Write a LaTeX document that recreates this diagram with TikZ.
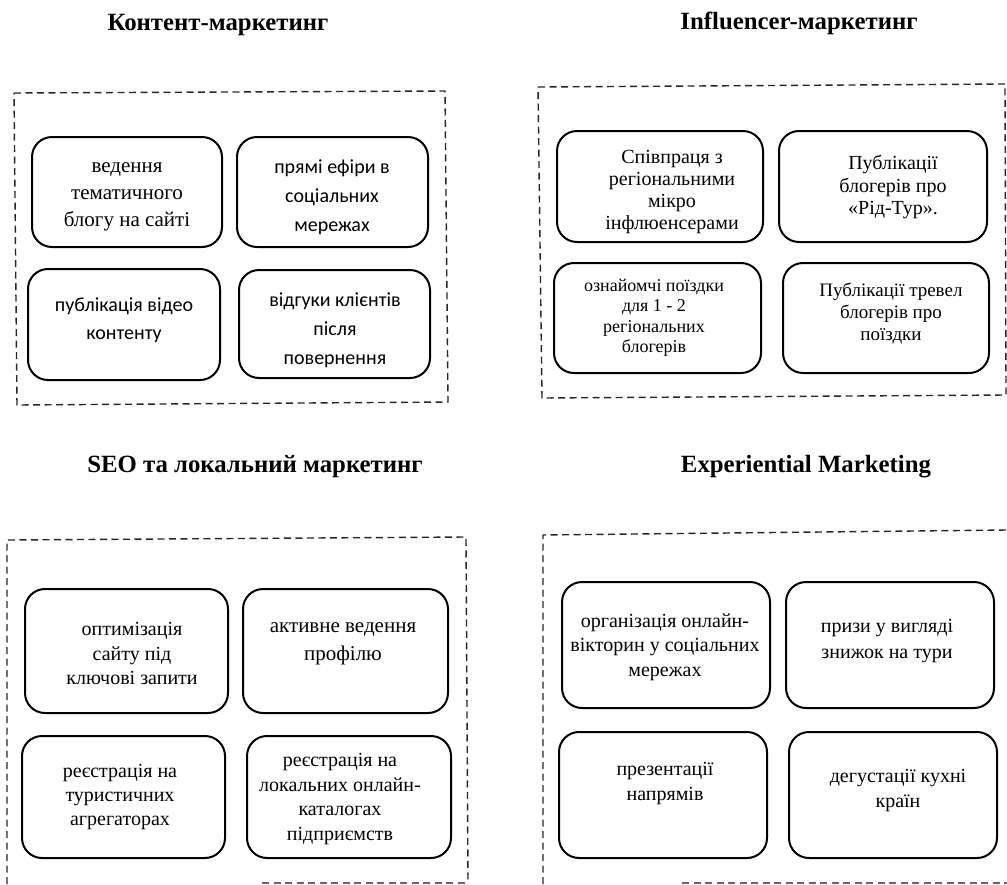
\documentclass[tikz,border=0pt]{standalone}
\usepackage{fontspec}
\setmainfont{Liberation Serif}
\newfontfamily\calfont{Carlito}
\begin{document}
\begin{tikzpicture}[x=1pt,y=-1pt,
  panel/.style={draw, line width=1.4pt, dash pattern=on 7pt off 4.5pt, black!85},
  card/.style={draw, line width=2pt, rounded corners=20pt, inner sep=0pt},
  lbl/.style={align=center, inner sep=0pt},
  ttl/.style={font=\bfseries\fontsize{24.8}{28}\selectfont, anchor=base, inner sep=0pt}]
\useasboundingbox (0,0) rectangle (1007,884);
% titles
\node[ttl] (t1) at (218,30) {Контент-маркетинг};
\node[ttl] (t2) at (799,29) {Influencer-маркетинг};
\node[ttl] (t3) at (255,472) {SEO та локальний маркетинг};
\node[ttl] (t4) at (806,472) {Experiential Marketing};
% panels
\draw[panel] (14,93) -- (445,91) -- (448,402) -- (17,405) -- cycle;
\draw[panel] (538,87) -- (1005,84) -- (1006,395) -- (542,398) -- cycle;
\draw[panel] (7,884) -- (7,540) -- (466,537) -- (468,884);
\draw[panel, black!60] (262,883) -- (468,883);
\draw[panel] (543,884) -- (543,535) -- (1007,530);
\draw[panel, black!60] (682,883) -- (1007,883);
% panel 1
\node[card, minimum width=190pt, minimum height=110pt] (a1) at (127,192) {};
\node[card, minimum width=191pt, minimum height=110pt] (b1) at (332.5,192) {};
\node[card, minimum width=192pt, minimum height=111pt] (c1) at (124,324.5) {};
\node[card, minimum width=191pt, minimum height=108pt] (d1) at (334.5,324) {};
\node[lbl, font=\fontsize{21}{27}\selectfont] (ta1) at (127,196.5) {ведення\\тематичного\\блогу на сайті};
\node[lbl, font=\calfont\fontsize{20}{29}\selectfont] (tb1) at (332,197) {прямі ефіри в\\соціальних\\мережах};
\node[lbl, font=\calfont\fontsize{20}{28}\selectfont] (tc1) at (124,320) {публікація відео\\контенту};
\node[lbl, font=\calfont\fontsize{20}{29}\selectfont] (td1) at (335,330) {відгуки клієнтів\\після\\повернення};
% panel 2
\node[card, minimum width=206pt, minimum height=111pt] (a2) at (660,186.5) {};
\node[card, minimum width=208pt, minimum height=111pt] (b2) at (883,186.5) {};
\node[card, minimum width=207pt, minimum height=110pt] (c2) at (657.5,318) {};
\node[card, minimum width=206pt, minimum height=110pt] (d2) at (886,318) {};
\node[lbl, font=\fontsize{20}{22}\selectfont] (ta2) at (672,192.5) {Співпраця з\\регіональними\\мікро\\інфлюенсерами};
\node[lbl, font=\fontsize{20}{22.5}\selectfont] (tb2) at (893,187) {Публікації\\блогерів про\\«Рід-Тур».};
\node[lbl, font=\fontsize{18}{20.5}\selectfont] (tc2) at (654,317.5) {ознайомчі поїздки\\для 1 - 2\\регіональних\\блогерів};
\node[lbl, font=\fontsize{19}{22}\selectfont] (td2) at (891,313.5) {Публікації тревел\\блогерів про\\поїздки};
% panel 3
\node[card, minimum width=203pt, minimum height=124pt] (a3) at (126.5,651) {};
\node[card, minimum width=205pt, minimum height=124pt] (b3) at (345.5,651) {};
\node[card, minimum width=203pt, minimum height=122pt] (c3) at (123.5,797) {};
\node[card, minimum width=204pt, minimum height=122pt] (d3) at (349,797) {};
\node[lbl, font=\fontsize{20}{24.5}\selectfont] (ta3) at (132,653.5) {оптимізація\\сайту під\\ключові запити};
\node[lbl, font=\fontsize{21}{28}\selectfont] (tb3) at (343,643.5) {активне ведення\\профілю};
\node[lbl, font=\fontsize{20}{24}\selectfont] (tc3) at (120,796.5) {реєстрація на\\туристичних\\агрегаторах};
\node[lbl, font=\fontsize{20}{24.5}\selectfont] (td3) at (340,799) {реєстрація на\\локальних онлайн-\\каталогах\\підприємств};
% panel 4
\node[card, minimum width=208pt, minimum height=126pt] (a4) at (666,645) {};
\node[card, minimum width=208pt, minimum height=126pt] (b4) at (890,645) {};
\node[card, minimum width=208pt, minimum height=126pt] (c4) at (663,795) {};
\node[card, minimum width=208pt, minimum height=126pt] (d4) at (893,795) {};
\node[lbl, font=\fontsize{20}{24.5}\selectfont] (ta4) at (665,647) {організація онлайн-\\вікторин у соціальних\\мережах};
\node[lbl, font=\fontsize{20}{26}\selectfont] (tb4) at (887,641.5) {призи у вигляді\\знижок на тури};
\node[lbl, font=\fontsize{20}{25}\selectfont] (tc4) at (665,783) {презентації\\напрямів};
\node[lbl, font=\fontsize{20}{25}\selectfont] (td4) at (898,790) {дегустації кухні\\країн};
\end{tikzpicture}
\end{document}
